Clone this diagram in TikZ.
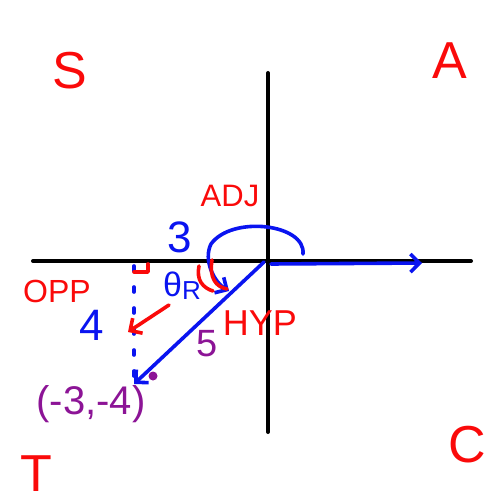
\documentclass[tikz,border=0pt]{standalone}
\usepackage{fontspec}
\setmainfont{Liberation Sans}
\usepackage{tikz}
\usetikzlibrary{positioning,arrows.meta,calc}
\definecolor{penred}{RGB}{250,10,10}
\definecolor{penblue}{RGB}{10,20,240}
\definecolor{penpurple}{RGB}{140,20,150}
\newcommand{\fs}[1]{\fontsize{#1}{#1}\selectfont}

\begin{document}
\begin{tikzpicture}[x=1pt, y=-1pt, >={Straight Barb[length=9pt,width=18pt]}, line cap=round, line join=round]
\tikzset{axis/.style={draw=black, line width=4pt},blueline/.style={draw=penblue, line width=3.6pt},redline/.style={draw=penred, line width=3.6pt},quad/.style={text=penred, inner sep=0pt, font=\fs{52}},redlbl/.style={text=penred, inner sep=0pt},bluelbl/.style={text=penblue, inner sep=0pt},purplbl/.style={text=penpurple, inner sep=0pt}}
\useasboundingbox (0,0) rectangle (499,502);
% quadrant letters
\node[quad] (S) at (70,71) {S};
\node[quad] (A) at (450,61) {A};
\node[quad] (T) at (36,474) {T};
\node[quad] (C) at (467,445) {C};
% axes
\coordinate (xl) at (33,261); \coordinate (xr) at (471,261);
\coordinate (yt) at (268,73); \coordinate (yb) at (268,432);
\draw[axis] (xl) -- (xr); \draw[axis] (yt) -- (yb);
% angle and triangle
\coordinate (O) at (264,262); \coordinate (P) at (134,384); \coordinate (F) at (134,266);
\coordinate (X) at (422,263); \coordinate (X0) at (271,264);
\coordinate (as) at (303,254); \coordinate (ae) at (229,291);
\draw[blueline, ->] (X0) -- (X);
\draw[blueline, ->] (as) .. controls (306,224) and (232,215) .. (211,244) .. controls (203,260) and (214,282) .. (ae);
\draw[blueline, ->] (O) -- (P);
\draw[blueline, dash pattern=on 5pt off 16pt] (F) -- (P);
\fill[penpurple] (153,376) circle (4.5);
\draw[redline] (199,266) .. controls (196,280) and (203,288) .. (213,291);
\draw[redline] (212,260) .. controls (209,278) and (216,287) .. (227,289);
\draw[redline] ($(F)+(14,-2)$) -- ++(0,8) -- ++(-14,0);
% labels
\node[redlbl, font=\fs{31}] (adj) at (230,196) {ADJ};
\node[redlbl, font=\fs{32}] (opp) at (57,291) {OPP};
\node[redlbl, font=\fs{36}] (hyp) at (260,323) {HYP};
\node[bluelbl, font=\fs{44}] (three) at (180,237) {3};
\node[bluelbl, font=\fs{44}] (four) at (92,325) {4};
\node[purplbl, font=\fs{38}] (five) at (207,344) {5};
\node[bluelbl, font=\fs{34}] (theta) at (182,286) {θ\raisebox{-3pt}{\fs{26}R}};
\node[purplbl, font=\fs{40}] (pt) at (91,404) {(-3,-4)};
\coordinate (rs) at (169,305); \coordinate (re) at (128,332);
\draw[redline, ->] (rs) -- (re);
\end{tikzpicture}
\end{document}
